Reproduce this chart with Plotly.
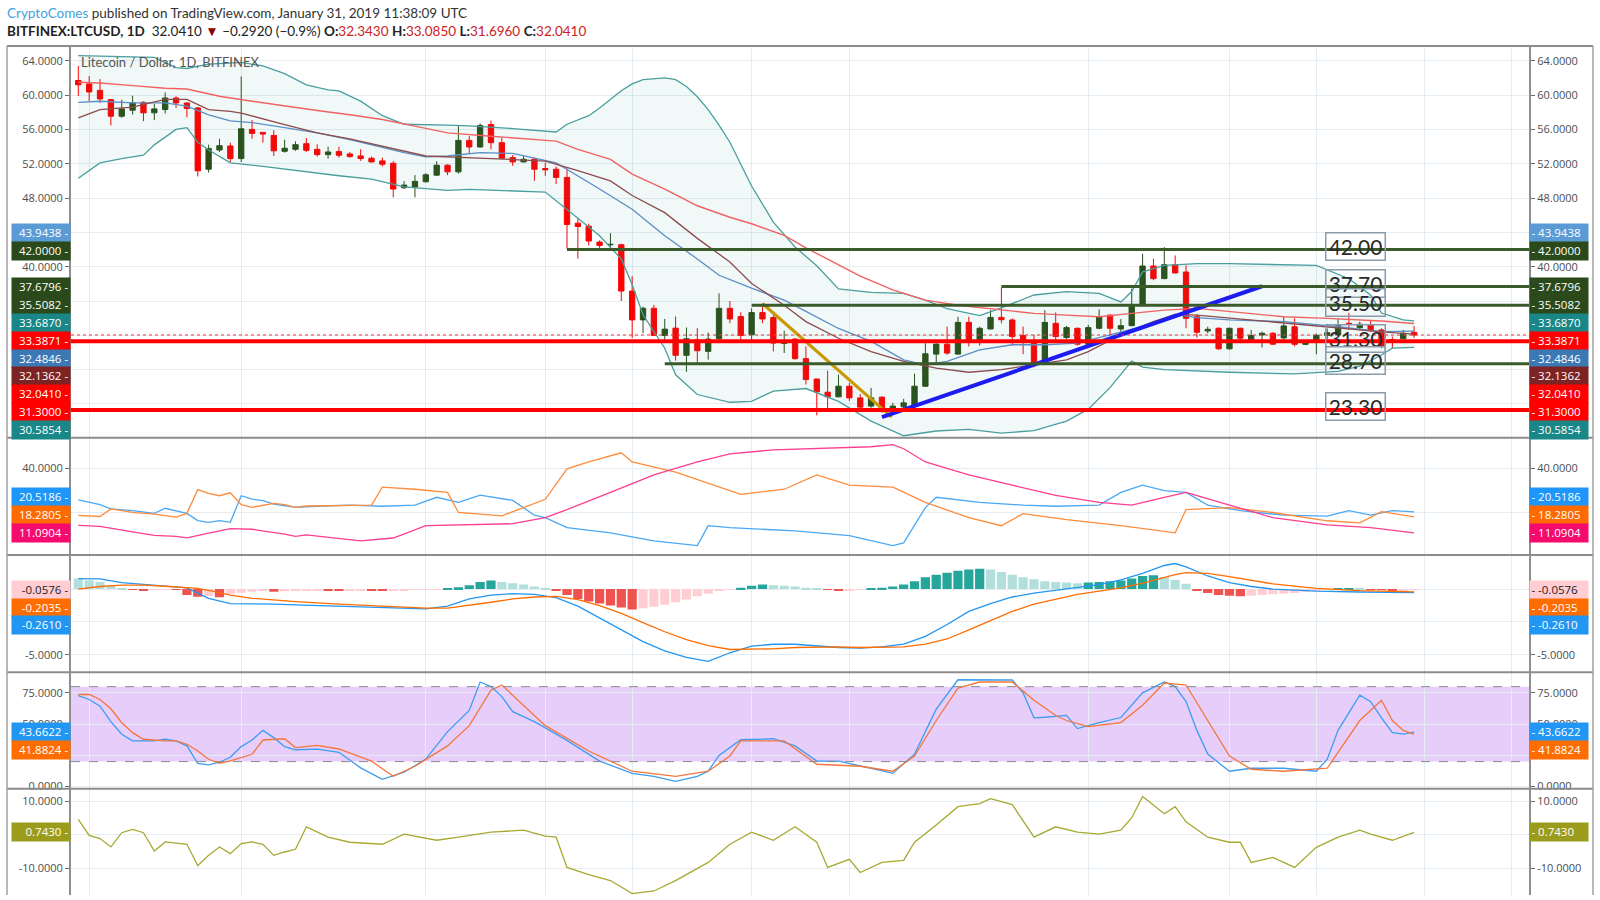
import pandas as pd
import plotly.graph_objects as go
from plotly.subplots import make_subplots

# ============================ DATA ============================
START = "2018-09-30"
N_CANDLES = 124
dates = pd.date_range(START, periods=N_CANDLES, freq="D")
t0 = dates[0]

opens = [61.7, 61.3, 60.55, 59.47, 57.54, 58.24, 59.16, 57.93, 58.31, 59.66,
         59.08, 58.5, 51.36, 53.6, 54.07, 52.6, 56.0, 55.65, 55.3, 53.45,
         53.68, 54.33, 53.68, 53.06, 53.41, 53.14, 52.91, 52.64, 52.33, 52.06,
         49.2, 49.28, 49.9, 50.67, 51.83, 51.05, 54.72, 53.95, 56.57, 54.45,
         52.71, 52.21, 52.52, 51.44, 51.36, 50.4, 45.07, 44.72, 42.87, 42.56,
         42.56, 37.16, 33.8, 35.15, 31.99, 32.84, 29.67, 31.48, 30.13, 31.6,
         35.15, 34.19, 32.07, 34.65, 34.07, 31.06, 31.56, 29.28, 26.91, 25.37,
         24.83, 26.07, 24.71, 23.75, 24.79, 23.25, 23.67, 23.75, 26.07, 29.81,
         30.97, 29.81, 33.51, 31.47, 32.74, 34.09, 33.79, 31.97, 31.35, 28.77,
         33.4, 31.74, 32.82, 30.97, 32.82, 34.36, 32.74, 33.13, 35.45, 40.08,
         38.61, 40.23, 39.38, 34.17, 32.51, 32.82, 30.43, 32.82, 31.47, 32.05,
         32.24, 31.7, 33.0, 30.95, 31.2, 32.0, 32.05, 33.4, 32.9, 33.21,
         32.63, 31.5, 31.6, 32.343]
highs = [63.4, 62.2, 61.86, 59.55, 59.47, 59.93, 59.28, 58.97, 60.32, 59.86,
         59.16, 58.62, 54.22, 54.9, 54.45, 62.17, 57.08, 55.7, 55.9, 54.8,
         54.6, 54.99, 54.26, 53.99, 53.99, 53.37, 53.68, 52.83, 52.71, 52.29,
         49.97, 50.67, 50.9, 52.29, 51.94, 56.38, 55.22, 56.69, 57.04, 55.03,
         53.02, 52.98, 52.71, 52.14, 51.67, 51.44, 45.65, 45.0, 43.06, 43.91,
         42.68, 38.89, 35.34, 35.53, 33.91, 34.19, 32.91, 32.84, 32.33, 36.89,
         36.0, 34.69, 35.15, 35.73, 34.38, 32.53, 31.68, 30.71, 26.95, 27.88,
         27.42, 26.45, 25.18, 25.87, 24.91, 24.13, 24.6, 27.53, 31.08, 31.08,
         33.01, 34.17, 34.17, 33.01, 34.94, 37.57, 33.98, 33.01, 32.05, 34.94,
         34.67, 33.09, 32.9, 33.21, 35.02, 34.44, 33.9, 37.45, 41.5, 40.93,
         42.28, 41.31, 40.15, 34.44, 33.01, 32.94, 32.9, 32.9, 32.63, 32.43,
         32.36, 34.17, 33.98, 31.27, 32.2, 32.8, 33.98, 34.63, 33.6, 33.79,
         32.82, 31.86, 32.63, 33.085]
lows = [59.9, 59.3, 59.1, 56.46, 57.35, 57.73, 56.96, 57.08, 57.85, 58.5,
        57.42, 50.52, 50.98, 53.37, 52.2, 52.2, 54.9, 54.45, 52.9, 53.3,
        53.5, 53.37, 52.83, 52.6, 52.71, 52.71, 52.33, 52.14, 51.67, 48.08,
        49.05, 48.08, 49.82, 50.6, 50.67, 50.86, 53.18, 53.87, 53.68, 52.52,
        51.75, 52.14, 50.01, 50.59, 49.63, 42.1, 40.94, 42.48, 42.1, 42.1,
        36.0, 31.68, 32.26, 31.9, 31.48, 29.05, 27.74, 28.67, 29.17, 31.5,
        33.41, 31.48, 31.48, 33.41, 30.13, 29.94, 29.17, 26.27, 22.67, 23.44,
        24.79, 24.33, 23.36, 23.56, 22.98, 22.94, 23.36, 23.7, 26.0, 28.65,
        29.73, 29.75, 30.7, 30.81, 32.7, 33.4, 30.81, 29.81, 28.27, 28.7,
        31.39, 31.58, 30.81, 30.89, 32.7, 32.05, 32.12, 33.05, 35.4, 38.42,
        38.55, 39.19, 32.82, 31.74, 32.24, 30.31, 30.31, 31.08, 31.27, 30.58,
        30.89, 31.5, 30.7, 30.85, 29.8, 31.5, 32.05, 32.63, 32.6, 32.4,
        30.5, 30.5, 31.6, 31.696]
closes = [61.2, 60.36, 59.55, 57.54, 58.39, 59.08, 57.93, 58.39, 59.66, 59.08,
          58.43, 51.17, 53.76, 54.1, 52.6, 56.07, 55.53, 55.45, 53.5, 53.8,
          54.22, 53.56, 53.06, 53.37, 52.99, 52.83, 52.6, 52.21, 51.94, 49.05,
          49.51, 49.94, 50.71, 51.83, 51.05, 54.72, 53.95, 56.46, 54.45, 52.64,
          52.21, 52.52, 51.36, 51.29, 50.4, 44.92, 44.68, 42.99, 42.48, 42.6,
          37.16, 33.8, 35.15, 31.99, 32.72, 29.67, 31.6, 30.21, 31.56, 35.15,
          33.91, 31.99, 34.65, 33.91, 31.1, 31.17, 29.28, 26.85, 25.41, 24.83,
          26.07, 24.71, 23.63, 24.71, 23.25, 23.75, 24.13, 26.07, 29.85, 30.97,
          29.93, 33.51, 31.35, 32.82, 34.09, 33.82, 31.85, 31.47, 28.77, 33.51,
          31.85, 32.9, 30.97, 32.9, 34.17, 32.82, 33.13, 35.6, 40.08, 38.61,
          40.23, 39.27, 33.98, 32.36, 32.70, 30.43, 32.82, 31.66, 31.97, 32.24,
          30.97, 33.1, 30.95, 31.08, 32.0, 32.3, 33.13, 33.36, 33.3, 32.55,
          30.7, 31.3, 32.24, 32.041]

# Bollinger bands (upper / lower), basis (brown), blue MA, red MA
bb_up_idx = [0, 4, 7, 9, 10, 12, 15, 17, 19, 21, 23, 24, 26, 28, 30, 34, 36, 40, 44, 45,
             47, 48, 49, 50, 51, 52, 54, 55, 56, 57, 58, 59, 60, 61, 62, 64, 66, 68, 70, 73,
             76, 78, 80, 83, 85, 88, 91, 94, 96, 97, 98, 100, 103, 106, 114, 117, 119, 120,
             122, 123]
bb_up_val = [64.6, 64.5, 64.4, 63.2, 63.1, 63.6, 63.8, 63.4, 62.5, 61.2, 60.6, 60.5, 59.3,
             57.6, 56.6, 56.5, 56.4, 56.1, 55.7, 56.6, 57.6, 58.5, 59.5, 60.5, 61.3, 61.8,
             62.0, 61.8, 61.0, 59.8, 58.3, 56.5, 54.5, 52.0, 49.4, 45.2, 42.3, 40.1, 37.4,
             37.0, 36.9, 36.1, 35.1, 34.3, 35.2, 36.7, 37.1, 36.9, 35.9, 37.1, 39.4, 40.15,
             40.35, 40.35, 40.15, 38.6, 36.7, 34.6, 33.8, 33.687]
bb_lo_idx = [0, 2, 4, 6, 7, 9, 10, 11, 12, 14, 17, 20, 24, 27, 30, 34, 36, 43, 45, 48,
             50, 51, 52, 54, 55, 57, 60, 62, 64, 67, 70, 73, 76, 79, 82, 85, 88, 91, 93, 95,
             97, 98, 100, 106, 112, 116, 118, 120, 121, 123]
bb_lo_val = [50.3, 52.1, 52.6, 53.0, 54.2, 56.0, 56.2, 54.5, 53.6, 52.1, 51.7, 51.2, 50.6,
             50.2, 49.3, 48.9, 49.0, 48.7, 46.7, 43.6, 40.9, 37.9, 34.4, 30.5, 27.4, 25.1,
             24.2, 24.3, 25.5, 25.8, 24.3, 22.0, 20.3, 20.85, 21.05, 20.6, 20.9, 22.0, 23.4,
             25.9, 29.0, 28.3, 28.0, 27.7, 27.5, 27.8, 28.4, 29.7, 30.5, 30.5854]
basis_idx = [0, 2, 5, 8, 10, 12, 14, 15, 19, 22, 25, 28, 30, 32, 38, 43, 46, 49, 51, 54,
             57, 60, 62, 65, 67, 70, 73, 76, 79, 82, 85, 88, 91, 93, 96, 99, 101, 103, 111,
             116, 120, 123]
basis_val = [57.35, 58.3, 58.6, 59.5, 59.5, 58.3, 58.1, 57.9, 56.57, 55.6, 54.9, 54.07,
             53.5, 52.9, 52.6, 52.3, 51.2, 50.0, 48.3, 46.3, 43.3, 40.55, 38.05, 35.5, 33.6,
             31.66, 30.1, 28.96, 28.19, 27.7, 28.0, 28.57, 29.15, 30.1, 32.05, 33.6, 34.44,
             34.36, 33.4, 32.82, 32.4, 32.1362]
blue_ma_idx = [0, 2, 5, 8, 10, 12, 14, 16, 19, 22, 25, 28, 30, 32, 34, 37, 40, 44, 46, 48,
               51, 54, 57, 59, 62, 65, 67, 70, 73, 76, 78, 80, 83, 86, 89, 92, 95, 99, 101,
               103, 106, 111, 116, 120, 123]
blue_ma_val = [59.16, 59.28, 59.1, 59.1, 58.7, 57.7, 57.0, 56.8, 56.2, 55.6, 54.8, 53.9,
               53.3, 52.8, 52.9, 53.3, 53.2, 52.1, 50.6, 49.05, 46.7, 43.6, 40.9, 39.0, 37.5,
               36.1, 34.8, 32.8, 31.3, 29.15, 28.57, 28.96, 30.3, 30.9, 30.9, 31.1, 32.05,
               33.4, 34.44, 34.06, 33.8, 33.6, 33.0, 32.43, 32.4846]
red_ma_idx = [0, 2, 5, 8, 10, 13, 16, 19, 22, 25, 28, 31, 34, 38, 44, 46, 49, 51, 54, 57,
              60, 62, 65, 67, 69, 72, 75, 78, 81, 84, 88, 91, 94, 97, 100, 103, 106, 111,
              115, 120, 123]
red_ma_val = [61.5, 61.4, 61.1, 60.8, 60.7, 59.86, 59.28, 58.7, 58.2, 57.7, 57.15, 56.38,
              55.6, 55.2, 54.64, 53.68, 52.5, 50.8, 49.05, 47.1, 45.76, 45.0, 43.64, 42.2,
              40.9, 38.9, 37.3, 36.1, 35.5, 35.1, 34.56, 34.36, 34.17, 34.56, 34.94, 35.14,
              34.75, 34.17, 33.98, 33.67, 33.3871]

# Drawings
hline_green_price = [42.00, 37.70, 35.50, 28.70]
hline_green_start = [45, 85, 62, 54]
hline_red_price = [31.30, 23.30]
level_texts = ["42.00", "37.70", "35.50", "31.30", "28.70", "23.30"]
gold_idx, gold_price = [63.0, 74.9], [35.71, 22.47]
trend_idx, trend_price = [74.0, 109.0], [22.47, 37.72]

# DMI
dmi_plus_idx = [0, 2, 3, 5, 7, 8, 10, 11, 12, 13, 14, 15, 16, 17, 18, 20, 22, 25, 28, 31,
                33, 35, 37, 40, 42, 43, 45, 49, 53, 57, 58, 60, 66, 71, 75, 76, 78, 79, 83, 87,
                90, 94, 96, 98, 100, 102, 104, 107, 111, 115, 117, 119, 121, 123]
dmi_plus_val = [25.8, 23.7, 21.8, 21.0, 19.8, 22.1, 19.8, 16.6, 15.8, 16.6, 15.8, 27.7, 26.2,
                25.5, 24.0, 22.5, 23, 23.5, 23, 23.5, 27, 24.7, 28, 25.6, 19, 17.9, 13.4, 11.1,
                7.5, 5.4, 14.3, 13.4, 12, 9.9, 5.4, 6.6, 22.4, 27, 24.7, 23.5, 23, 23.5, 29.2,
                32.4, 30, 29.2, 23.5, 21, 19, 18.6, 21, 19, 21, 20.5186]
dmi_minus_idx = [0, 2, 3, 5, 7, 9, 10, 11, 12, 13, 14, 15, 16, 17, 18, 19, 20, 21, 27, 28,
                 31, 34, 35, 39, 43, 45, 47, 50, 51, 55, 59, 61, 65, 68, 71, 75, 78, 82, 85,
                 87, 91, 96, 101, 102, 106, 110, 115, 118, 120, 123]
dmi_minus_val = [18.9, 18.4, 21.8, 20.3, 19.5, 18.1, 19.8, 30.4, 28.7, 27.7, 29.0, 23.7, 22.5,
                 23.3, 24.3, 23.7, 22.5, 23.1, 23.5, 31.5, 30.6, 29.2, 20.2, 18.7, 26.1, 39.7,
                 42.8, 46.9, 42.8, 38.3, 31.5, 28.3, 30.6, 37, 32.4, 31.5, 24.7, 17.9, 14.3,
                 19.7, 17, 14.3, 11.1, 21.5, 22.4, 20.2, 16.5, 15.6, 20.6, 18.2805]
adx_idx = [0, 2, 5, 7, 9, 10, 12, 14, 16, 17, 19, 20, 21, 26, 29, 32, 36, 40, 43, 45,
           49, 53, 57, 60, 64, 68, 73, 75, 76, 78, 82, 86, 90, 94, 97, 100, 102, 106, 110,
           115, 119, 123]
adx_val = [14.4, 14.0, 11.5, 10.0, 9.5, 8.9, 11.0, 13.0, 12.7, 12.0, 10.5, 9.5, 10.2, 7.5,
           8.8, 14.3, 14.7, 15.2, 17.9, 21.5, 29.2, 37, 42.8, 46.4, 48.2, 48.7, 49.6, 50.5,
           48.7, 42.8, 37, 32.4, 27.9, 24.7, 23.5, 27, 29.2, 23.5, 17.9, 14.7, 13.4, 11.0904]

# MACD
macd_idx = [0, 2, 4, 6, 8, 10, 11, 12, 14, 16, 18, 20, 24, 28, 32, 34, 36, 38, 40, 42,
            44, 46, 48, 50, 52, 54, 56, 58, 60, 62, 64, 66, 68, 70, 72, 74, 76, 78, 80, 82,
            84, 86, 88, 90, 92, 94, 96, 98, 100, 101, 102, 104, 106, 108, 110, 114, 118, 123]
macd_val = [0.80, 0.78, 0.5, 0.35, 0.2, 0.1, -0.3, -0.7, -1.1, -1.1, -1.15, -1.2, -1.3, -1.45,
            -1.5, -1.3, -0.75, -0.45, -0.35, -0.4, -0.65, -1.3, -2.2, -3.1, -4.0, -4.7, -5.2,
            -5.5, -4.85, -4.35, -4.2, -4.2, -4.35, -4.45, -4.5, -4.4, -4.2, -3.6, -2.7, -1.7,
            -1.1, -0.6, -0.3, -0.1, 0.1, 0.35, 0.7, 1.2, 1.8, 1.95, 1.7, 1.0, 0.5, 0.2, 0.0,
            -0.15, -0.22, -0.261]
signal_val = [0.0, 0.2, 0.3, 0.3, 0.22, 0.13, 0.05, -0.1, -0.45, -0.7, -0.85, -0.96, -1.15,
              -1.3, -1.45, -1.45, -1.25, -1.0, -0.75, -0.6, -0.55, -0.8, -1.25, -1.85, -2.55,
              -3.25, -3.85, -4.3, -4.6, -4.6, -4.55, -4.45, -4.4, -4.4, -4.45, -4.45, -4.4,
              -4.2, -3.8, -3.1, -2.4, -1.7, -1.15, -0.75, -0.4, -0.15, 0.1, 0.45, 0.9, 1.1,
              1.25, 1.2, 0.95, 0.65, 0.4, 0.05, -0.12, -0.2035]
macd_hist = [0.80, 0.68, 0.56, 0.22, 0.06,
             -0.06, -0.07, -0.05, -0.04, -0.05,
             -0.45, -0.58, -0.53, -0.62, -0.35,
             -0.28, -0.2, -0.1, -0.2, -0.17, -0.12,
             -0.1, -0.08, -0.1, -0.12, -0.1, -0.08, -0.1, -0.15, -0.1, -0.08, -0.06, -0.05,
             -0.03, 0.05,
             0.15, 0.3, 0.55, 0.65, 0.55, 0.45, 0.35, 0.2, 0.1,
             -0.1, -0.45, -0.75, -0.95, -1.1, -1.25, -1.4, -1.55, -1.45, -1.35, -1.2, -1.0,
             -0.8, -0.55, -0.35, -0.15, -0.05,
             0.1, 0.25, 0.35, 0.3, 0.25, 0.2, 0.1,
             0.03, -0.05, -0.1, -0.08, -0.05, 0.02,
             0.1, 0.2, 0.35, 0.6, 0.9, 1.1, 1.25, 1.4, 1.5, 1.55, 1.5, 1.3, 1.1, 0.9, 0.75,
             0.6, 0.55, 0.5, 0.45,
             0.5, 0.55, 0.6, 0.65, 0.8, 1.0, 1.05, 0.9, 0.7, 0.4,
             -0.1, -0.3, -0.45, -0.5, -0.55, -0.5, -0.45, -0.4, -0.35, -0.3,
             -0.2, -0.1, -0.05, 0.03, 0.05, 0.02, -0.03, -0.06, -0.08, -0.07, -0.0576]

# Stochastic RSI
k_idx = [0, 1, 2, 3, 4, 5, 7, 8, 9, 10, 11, 12, 13, 14, 15, 16, 17, 18, 19, 20,
         22, 24, 26, 28, 30, 32, 34, 36, 37, 38, 39, 40, 42, 45, 48, 51, 53, 55, 57, 58,
         59, 61, 64, 66, 68, 70, 73, 75, 77, 79, 81, 83, 86, 87, 88, 89, 91, 92, 94, 96,
         98, 100, 101, 102, 103, 104, 106, 108, 111, 114, 115, 116, 118, 119, 120, 121, 122, 123]
k_val = [72.9, 69.7, 64.4, 52, 41.9, 36.6, 36.6, 37.9, 36.6, 32.6, 18.5, 17.4, 19.5, 23.5,
         32.0, 37.3, 45.0, 39.2, 32.0, 29.5, 30, 27.5, 15, 5.8, 11.5, 22, 44, 61, 83.7, 80,
         72, 60, 52, 37, 20.4, 10.6, 8.2, 4.2, 8.2, 12.3, 25, 37.5, 38.3, 32.6, 20.4, 20.4,
         14.7, 10.6, 26, 62, 85.5, 85.3, 85.3, 75, 55, 55.5, 57, 46.4, 51.2, 55.3, 75, 83.7,
         80, 68, 45, 26, 12.3, 14.7, 14.7, 12.3, 22, 45, 73.2, 68, 55, 43.1, 42, 43.6622]
d_idx = [0, 1, 2, 3, 4, 5, 6, 8, 9, 10, 11, 12, 13, 14, 16, 17, 19, 20, 22, 24,
         27, 29, 31, 34, 36, 38, 39, 41, 43, 47, 51, 55, 58, 60, 61, 65, 68, 72, 75, 77,
         79, 81, 83, 86, 88, 90, 91, 93, 96, 98, 100, 102, 104, 106, 108, 111, 115, 118,
         120, 121, 122, 123]
d_val = [73.7, 73.7, 69.7, 62.3, 51.1, 43.2, 37.9, 36.6, 36.6, 33.9, 28.5, 21.9, 18.7, 20.6,
         25.9, 37.3, 38.3, 31.2, 33, 30.1, 20.4, 8.2, 16.3, 32.6, 48.8, 77.2, 81.3, 65.1,
         48.8, 28.5, 12.3, 8.2, 12.3, 24.5, 36.6, 36.6, 17.9, 16.3, 12.3, 24.5, 52.9, 78.8,
         83.7, 83.7, 69.1, 56.9, 52.9, 48.0, 51.2, 65.1, 82.9, 81.3, 52.9, 24.5, 13.9, 12.3,
         14.7, 52.9, 69.1, 52.9, 45, 41.8824]

# Bottom oscillator
osc_idx = [0, 1, 2, 3, 4, 5, 6, 7, 8, 10, 11, 12, 13, 14, 15, 16, 17, 18, 19, 20,
           21, 23, 25, 28, 30, 33, 35, 38, 41, 43, 44, 45, 47, 49, 51, 53, 55, 58, 60, 62,
           64, 66, 68, 69, 71, 72, 74, 76, 77, 79, 81, 83, 84, 86, 88, 90, 92, 94, 96, 97,
           98, 100, 101, 102, 104, 106, 107, 108, 110, 112, 114, 116, 118, 119, 121, 123]
osc_val = [4.59, -0.15, -1.1, -3.6, 0.64, 1.6, 0.64, -4.8, -2.1, -2.8, -9.2, -6.1, -3.6, -5.6,
           -2.6, -2.1, -2.8, -6.1, -5.1, -4.3, 2.4, -0.7, -2.2, -2.8, 0.2, -1.6, -0.7, 0.8,
           1.4, -0.4, -0.7, -9.7, -11.8, -13.6, -17.5, -16.7, -13.6, -8.2, -2.8, 0.8, -1.6,
           2.4, -2.2, -9.7, -7.3, -11.2, -8.2, -7.6, -2.2, 2.9, 8.4, 9.3, 10.8, 9.0, -0.7,
           2.4, 0.8, 0.2, 1.4, 5.1, 11.4, 6.3, 8.4, 3.9, -0.7, -2.2, -2.2, -8.2, -6.7, -9.7,
           -3.7, -0.7, 1.4, 0.2, -1.6, 0.743]

# Axis value labels (text, colour) per pane, in descending order
main_labels = [("43.9438", "#5b9bd5"), ("42.0000", "#2b4a1b"), ("37.6796", "#2b4a1b"),
               ("35.5082", "#2b4a1b"), ("33.6870", "#198787"), ("33.3871", "#ff0000"),
               ("32.4846", "#3b78b4"), ("32.1362", "#7d2323"), ("32.0410", "#ff0000"),
               ("31.3000", "#ff0000"), ("30.5854", "#198787")]
dmi_labels = [("20.5186", "#1e96fa"), ("18.2805", "#ff6a00"), ("11.0904", "#f50a6e")]
macd_labels = [("-0.0576", "#ffcdd2"), ("-0.2035", "#ff6d00"), ("-0.2610", "#2196f3")]
stoch_labels = [("43.6622", "#2196f3"), ("41.8824", "#ff6d00")]
osc_labels = [("0.7430", "#9c9c1c")]

# Grid values per pane and the subset whose tick text is visible (others sit under labels)
main_ticks = [24, 28, 32, 36, 40, 44, 48, 52, 56, 60, 64]
main_ticks_shown = [40, 48, 52, 56, 60, 64]
dmi_ticks = [20, 40]
dmi_ticks_shown = [40]
macd_ticks = [-5, -2.5, 0]
macd_ticks_shown = [-5]
stoch_ticks = [0, 25, 50, 75]
stoch_ticks_shown = [0, 25, 50, 75]
osc_ticks = [-10, 0, 10]
osc_ticks_shown = [-10, 10]
grid_idx = [1, 15, 32, 43, 51, 62, 71, 93, 106, 114, 124, 132]

# ============================ LAYOUT ============================
W, H = 1600, 900
PL, PR, PT = 71, 1529, 46
PANE_PX = [(46, 440), (440, 558), (558, 676), (676, 793), (793, 900)]
RANGES = [(20.07, 65.72), (1.2, 53.64), (-6.34, 2.6), (-1.61, 91.47), (-17.9, 13.76)]
CANDLE0_PX, STEP_PX = 78.3, 10.86
FONT = "Open Sans"
GRID = "#e6edf2"
UP_C, DN_C = "#2b4e16", "#ff0000"


def at(idx):
    return [t0 + pd.Timedelta(days=float(i)) for i in idx]


x_lo = (PL - CANDLE0_PX) / STEP_PX
x_hi = (PR - CANDLE0_PX) / STEP_PX
XR = [t0 + pd.Timedelta(days=x_lo), t0 + pd.Timedelta(days=x_hi)]


def xp(px):
    return (px - PL) / (PR - PL)


def yp(py):
    return (H - py) / (H - PT)


def v2px(v, k):
    top, bot = PANE_PX[k]
    lo, hi = RANGES[k]
    return top + (hi - v) / (hi - lo) * (bot - top)


def px2v(p, k):
    top, bot = PANE_PX[k]
    lo, hi = RANGES[k]
    return hi - (p - top) / (bot - top) * (hi - lo)


def stack(vals, k, direction, h=17.9):
    px = [v2px(v, k) for v in vals]
    if direction == "down":
        for i in range(1, len(px)):
            px[i] = max(px[i], px[i - 1] + h)
    else:
        for i in range(len(px) - 2, -1, -1):
            px[i] = min(px[i], px[i + 1] - h)
    return [px2v(p, k) for p in px]


heights = [b - t for t, b in PANE_PX]
fig = make_subplots(rows=5, cols=1, shared_xaxes=True, vertical_spacing=0,
                    row_heights=[h_ / sum(heights) for h_ in heights])

# ---- main pane ----
fig.add_trace(go.Scatter(x=at(bb_up_idx), y=bb_up_val, mode="lines",
                         line=dict(color="#4a9e9e", width=1.3), hoverinfo="skip"), row=1, col=1)
fig.add_trace(go.Scatter(x=at(bb_lo_idx), y=bb_lo_val, mode="lines", fill="tonexty",
                         fillcolor="rgba(42,150,150,0.07)",
                         line=dict(color="#4a9e9e", width=1.3), hoverinfo="skip"), row=1, col=1)
fig.add_trace(go.Scatter(x=at(red_ma_idx), y=red_ma_val, mode="lines",
                         line=dict(color="#f26262", width=1.4), hoverinfo="skip"), row=1, col=1)
fig.add_trace(go.Scatter(x=at(blue_ma_idx), y=blue_ma_val, mode="lines",
                         line=dict(color="#5b8ec6", width=1.3), hoverinfo="skip"), row=1, col=1)
fig.add_trace(go.Scatter(x=at(basis_idx), y=basis_val, mode="lines",
                         line=dict(color="#8e4c4c", width=1.3), hoverinfo="skip"), row=1, col=1)
fig.add_trace(go.Candlestick(x=dates, open=opens, high=highs, low=lows, close=closes,
                             increasing=dict(line=dict(color=UP_C, width=1), fillcolor=UP_C),
                             decreasing=dict(line=dict(color=DN_C, width=1), fillcolor=DN_C),
                             whiskerwidth=0, hoverinfo="skip"), row=1, col=1)
fig.add_trace(go.Scatter(x=at(gold_idx), y=gold_price, mode="lines",
                         line=dict(color="#c99a06", width=3.2), hoverinfo="skip"), row=1, col=1)
fig.add_trace(go.Scatter(x=at(trend_idx), y=trend_price, mode="lines",
                         line=dict(color="#1c1cf0", width=4), hoverinfo="skip"), row=1, col=1)

# ---- DMI ----
fig.add_trace(go.Scatter(x=at(dmi_plus_idx), y=dmi_plus_val, mode="lines",
                         line=dict(color="#4aa8f5", width=1.3), hoverinfo="skip"), row=2, col=1)
fig.add_trace(go.Scatter(x=at(dmi_minus_idx), y=dmi_minus_val, mode="lines",
                         line=dict(color="#ff8c3a", width=1.3), hoverinfo="skip"), row=2, col=1)
fig.add_trace(go.Scatter(x=at(adx_idx), y=adx_val, mode="lines",
                         line=dict(color="#ff3d8f", width=1.3), hoverinfo="skip"), row=2, col=1)

# ---- MACD ----
hist_colors = []
for i, v in enumerate(macd_hist):
    prev = macd_hist[i - 1] if i > 0 else v
    if v >= 0:
        hist_colors.append("#26a69a" if v > prev else "#b2dfdb")
    else:
        hist_colors.append("#ef5350" if v < prev else "#ffcdd2")
fig.add_trace(go.Bar(x=dates, y=macd_hist, marker=dict(color=hist_colors, line=dict(width=0)),
                     hoverinfo="skip"), row=3, col=1)
fig.add_trace(go.Scatter(x=at(macd_idx), y=macd_val, mode="lines",
                         line=dict(color="#2196f3", width=1.3), hoverinfo="skip"), row=3, col=1)
fig.add_trace(go.Scatter(x=at(macd_idx), y=signal_val, mode="lines",
                         line=dict(color="#ff6d00", width=1.3), hoverinfo="skip"), row=3, col=1)

# ---- Stoch RSI ----
fig.add_trace(go.Scatter(x=at(k_idx), y=k_val, mode="lines",
                         line=dict(color="#3d9df0", width=1.3), hoverinfo="skip"), row=4, col=1)
fig.add_trace(go.Scatter(x=at(d_idx), y=d_val, mode="lines",
                         line=dict(color="#f5763a", width=1.3), hoverinfo="skip"), row=4, col=1)

# ---- Oscillator ----
fig.add_trace(go.Scatter(x=at(osc_idx), y=osc_val, mode="lines",
                         line=dict(color="#a8a832", width=1.3), hoverinfo="skip"), row=5, col=1)

# ---- axes ----
tick_sets = [(main_ticks, main_ticks_shown), (dmi_ticks, dmi_ticks_shown),
             (macd_ticks, macd_ticks_shown), (stoch_ticks, stoch_ticks_shown),
             (osc_ticks, osc_ticks_shown)]
for k in range(5):
    yname = "yaxis" if k == 0 else f"yaxis{k + 1}"
    xname = "x" if k == 0 else f"x{k + 1}"
    yref = "y" if k == 0 else f"y{k + 1}"
    tv, shown = tick_sets[k]
    base = dict(range=list(RANGES[k]), tickvals=tv,
                ticktext=[f"{v:.4f}" if v in shown else "" for v in tv],
                zeroline=False, ticks="outside", ticklen=4, tickcolor="#6a6a6a",
                tickfont=dict(family=FONT, size=11, color="#4d4d4d"),
                showline=True, linecolor="#8f8f8f", linewidth=2, fixedrange=True)
    fig.layout[yname].update(showgrid=True, gridcolor=GRID, gridwidth=1, **base)
    rname = f"yaxis{k + 6}"
    fig.layout[rname] = dict(overlaying=yref, side="right", anchor=xname, showgrid=False, **base)
    fig.add_trace(go.Scatter(x=[t0], y=[sum(RANGES[k]) / 2], xaxis=xname, yaxis=f"y{k + 6}",
                             mode="markers", marker=dict(opacity=0), hoverinfo="skip"))

fig.update_xaxes(range=XR, showticklabels=False, ticks="", showgrid=True, gridcolor=GRID,
                 tickvals=at(grid_idx), zeroline=False, showline=False,
                 rangeslider_visible=False, fixedrange=True)

# ---- shapes ----
shapes = []
shapes.append(dict(type="rect", xref="paper", yref="y4", x0=0, x1=1, y0=20, y1=80,
                   fillcolor="#e6cdfa", line=dict(width=0), layer="below"))
for lvl in (80, 20):
    shapes.append(dict(type="line", xref="paper", yref="y4", x0=0, x1=1, y0=lvl, y1=lvl,
                       line=dict(color="#8a8a8a", width=1, dash="dash")))
for p, s in zip(hline_green_price, hline_green_start):
    shapes.append(dict(type="line", xref="x", yref="y", x0=at([s])[0], x1=XR[1], y0=p, y1=p,
                       line=dict(color="#3a5a2a", width=3), layer="above"))
for p in hline_red_price:
    shapes.append(dict(type="line", xref="paper", yref="y", x0=0, x1=1, y0=p, y1=p,
                       line=dict(color="#ff0000", width=4), layer="above"))
shapes.append(dict(type="line", xref="paper", yref="y", x0=0, x1=1, y0=closes[-1],
                   y1=closes[-1], line=dict(color="#ff3030", width=1, dash="dot"), layer="above"))
FRAME = "#8c8c8c"
for py in (46, 440, 558, 676, 793):
    shapes.append(dict(type="line", xref="paper", yref="paper", x0=xp(7), x1=xp(1593),
                       y0=yp(py), y1=yp(py), line=dict(color=FRAME, width=2)))
for px in (7, 1593):
    shapes.append(dict(type="line", xref="paper", yref="paper", x0=xp(px), x1=xp(px),
                       y0=yp(46), y1=0, line=dict(color="#a0a0a0", width=1.5)))
fig.update_layout(shapes=shapes)

# ---- annotations ----
ann = []
pane_labels = [(0, main_labels, "down"), (1, dmi_labels, "up"), (2, macd_labels, "down"),
               (3, stoch_labels, "down"), (4, osc_labels, "down")]
for k, labels, direction in pane_labels:
    yref = "y" if k == 0 else f"y{k + 1}"
    ys = stack([float(t) for t, _ in labels], k, direction)
    for (txt, col), yv in zip(labels, ys):
        fc = "#222222" if col == "#ffcdd2" else "#ffffff"
        for side in ("left", "right"):
            ann.append(dict(
                x=0 if side == "left" else 1, xref="paper", y=yv, yref=yref,
                xanchor="right" if side == "left" else "left", yanchor="middle",
                text=f"{txt} -" if side == "left" else f"- {txt}",
                align="right" if side == "left" else "left",
                showarrow=False, bgcolor=col, width=55, height=15, borderpad=1.4,
                font=dict(family=FONT, size=11.5, color=fc)))

for txt in level_texts:
    ann.append(dict(x=xp(1355), xref="paper", y=float(txt), yref="y", yshift=3,
                    text=txt, showarrow=False, xanchor="center", yanchor="middle",
                    font=dict(family="Lato", size=21, color="#2a2a2a"),
                    bordercolor="#8c9bab", borderwidth=1.5, borderpad=2,
                    width=54, height=22, bgcolor="rgba(255,255,255,0)"))

ann.append(dict(x=xp(79), xref="paper", y=yp(62), yref="paper", xanchor="left",
                yanchor="middle", showarrow=False, text="Litecoin / Dollar, 1D, BITFINEX",
                font=dict(family="Lato", size=13, color="#555555")))
ann.append(dict(x=xp(5), xref="paper", y=yp(13), yref="paper", xanchor="left",
                yanchor="middle", showarrow=False,
                text="<span style='color:#3fa2e0'>CryptoComes</span> published on "
                     "TradingView.com, January 31, 2019 11:38:09 UTC",
                font=dict(family="Lato", size=13.5, color="#333333")))
ann.append(dict(x=xp(5), xref="paper", y=yp(31), yref="paper", xanchor="left",
                yanchor="middle", showarrow=False,
                text="<b>BITFINEX:LTCUSD, 1D</b>  32.0410 "
                     "<span style='color:#8b0000'>▼</span> −0.2920 (−0.9%) "
                     "<b>O:</b><span style='color:#cc2222'>32.3430</span> "
                     "<b>H:</b><span style='color:#cc2222'>33.0850</span> "
                     "<b>L:</b><span style='color:#cc2222'>31.6960</span> "
                     "<b>C:</b><span style='color:#cc2222'>32.0410</span>",
                font=dict(family="Lato", size=13.5, color="#222222")))

fig.update_layout(annotations=ann, width=W, height=H, autosize=False,
                  margin=dict(l=PL, r=W - PR, t=PT, b=0, pad=0),
                  paper_bgcolor="white", plot_bgcolor="white", showlegend=False,
                  bargap=0.15, hovermode=False)

fig.write_html("out.html")
